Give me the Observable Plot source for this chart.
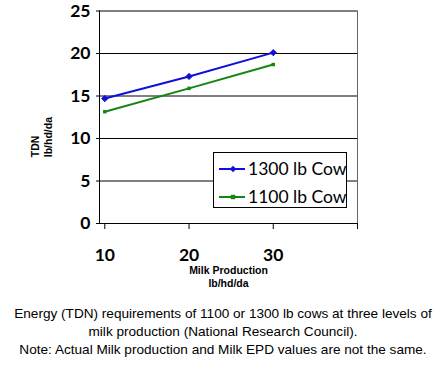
<!DOCTYPE html>
<html>
<head>
<meta charset="utf-8">
<script src="https://cdn.jsdelivr.net/npm/d3@7"></script>
<script src="https://cdn.jsdelivr.net/npm/@observablehq/plot@0.6"></script>
<style>
  html, body { margin: 0; padding: 0; background: #fff; }
  #wrap { position: relative; width: 446px; }
  #wrap svg { overflow: visible; }
  #legend {
    position: absolute; left: 213px; top: 152px; width: 134px; height: 56px;
    border: 1px solid #000; background: #fff; box-sizing: border-box;
    font-family: Lato, "Open Sans", sans-serif; font-size: 17.5px; color: #000;
    white-space: nowrap;
  }
  .row { position: absolute; left: 5px; display: flex; align-items: center; white-space: nowrap; }
  .row svg { margin-right: 3px; flex: none; }
  #caption {
    font-family: "Liberation Sans", Arial, sans-serif; font-size: 13.6px;
    text-align: center; line-height: 18px; color: #000; margin-top: 12px;
    white-space: nowrap;
  }
</style>
</head>
<body>
<div id="wrap"></div>
<script>
const milk = [10, 20, 30];
const cow1300 = [14.7, 17.3, 20.1];
const cow1100 = [13.15, 15.9, 18.7];
const seriesNames = ["1300 lb Cow", "1100 lb Cow"];
const seriesColors = ["#1010d8", "#158515"];
const yTicks = [0, 5, 10, 15, 20, 25];
const xTickLabels = [10, 20, 30];
const xTickMarks = [10, 20, 30, 40];
const yTitle = "TDN\nlb/hd/da";
const xTitle = "Milk Production\nlb/hd/da";
const captionLines = [
  "Energy (TDN) requirements of 1100 or 1300 lb cows at three levels of",
  "milk production (National Research Council).",
  "Note: Actual Milk production and Milk EPD values are not the same."
];

const data = [];
milk.forEach((m, i) => {
  data.push({milk: m, tdn: cow1300[i], s: seriesNames[0]});
  data.push({milk: m, tdn: cow1100[i], s: seriesNames[1]});
});
const d1300 = data.filter(d => d.s === seriesNames[0]);
const d1100 = data.filter(d => d.s === seriesNames[1]);

const H = 293;
const chart = Plot.plot({
  width: 446,
  height: H,
  marginLeft: 99,
  marginRight: 89,
  marginTop: 10.5,
  marginBottom: H - 223,
  x: {domain: [9.37, 40]},
  y: {domain: [0, 25]},
  style: {background: "#fff", overflow: "visible"},
  marks: [
    Plot.gridY(yTicks.filter(t => t > 0), {stroke: "#000", strokeOpacity: 1, strokeWidth: 1}),
    Plot.ruleX([40], {y1: 0, y2: 25, stroke: "#666", strokeWidth: 1}),
    Plot.ruleY([0], {stroke: "#000", strokeWidth: 1}),
    Plot.ruleX([9.37], {y1: 0, y2: 25, stroke: "#000", strokeWidth: 1}),
    Plot.axisY(yTicks, {tickSize: 3, tickPadding: 6, fontSize: 17.5, fontWeight: "bold", fontFamily: "Lato, sans-serif", label: null, stroke: "#000"}),
    Plot.axisX(xTickMarks, {tickSize: 6, tickFormat: () => "", label: null}),
    Plot.axisX(xTickLabels, {tickSize: 0, tickPadding: 25, fontSize: 17.5, fontWeight: "bold", fontFamily: "Lato, sans-serif", label: null}),
    Plot.line(d1300, {x: "milk", y: "tdn", stroke: seriesColors[0], strokeWidth: 2}),
    Plot.dot(d1300, {x: "milk", y: "tdn", symbol: "diamond2", r: 2.8, fill: seriesColors[0], stroke: seriesColors[0], strokeWidth: 1}),
    Plot.line(d1100, {x: "milk", y: "tdn", stroke: seriesColors[1], strokeWidth: 2}),
    Plot.dot(d1100, {x: "milk", y: "tdn", symbol: "square2", r: 2.2, fill: seriesColors[1]}),
    Plot.text([yTitle], {frameAnchor: "left", rotate: -90, dx: -58, dy: 40, fontSize: 10.5, fontWeight: "bold", fontFamily: "Liberation Sans, Arial, sans-serif", lineHeight: 1.2, fill: "#000"}),
    Plot.text([xTitle], {frameAnchor: "bottom", dy: 41, fontSize: 10.5, fontWeight: "bold", fontFamily: "Liberation Sans, Arial, sans-serif", lineHeight: 1.25, fill: "#000", lineAnchor: "top"})
  ]
});
const wrap = document.getElementById("wrap");
wrap.appendChild(chart);

const legend = document.createElement("div");
legend.id = "legend";
const symbols = [
  '<polygon points="14,-3.2 17.2,0 14,3.2 10.8,0" fill="' + seriesColors[0] + '"/>',
  '<rect x="11.8" y="-2.2" width="4.4" height="4.4" fill="' + seriesColors[1] + '"/>'
];
seriesNames.forEach((n, i) => {
  const row = document.createElement("div");
  row.className = "row";
  row.style.top = (i === 0 ? 5 : 33) + "px";
  row.innerHTML = '<svg width="26" height="14" viewBox="0 -7 26 14"><line x1="0" x2="26" y1="0" y2="0" stroke="' + seriesColors[i] + '" stroke-width="2"/>' + symbols[i] + '</svg><span>' + n + '</span>';
  legend.appendChild(row);
});
wrap.appendChild(legend);

const cap = document.createElement("div");
cap.id = "caption";
cap.innerHTML = captionLines.join("<br>");
wrap.appendChild(cap);
</script>
</body>
</html>
